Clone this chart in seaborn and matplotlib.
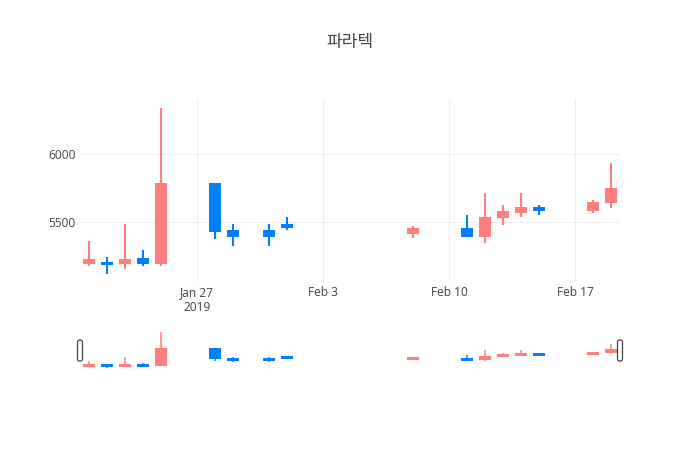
import pandas as pd
import numpy as np
import matplotlib
matplotlib.use("Agg")
import matplotlib.pyplot as plt
import matplotlib.dates as mdates
from matplotlib.patches import FancyBboxPatch
from matplotlib.transforms import IdentityTransform
import seaborn as sns

dates = ["2019-01-21", "2019-01-22", "2019-01-23", "2019-01-24", "2019-01-25",
         "2019-01-28", "2019-01-29", "2019-01-31", "2019-02-01", "2019-02-08",
         "2019-02-11", "2019-02-12", "2019-02-13", "2019-02-14", "2019-02-15",
         "2019-02-18", "2019-02-19"]
opens = [5190, 5200, 5190, 5235, 5195, 5790, 5440, 5440, 5490, 5410,
         5460, 5390, 5530, 5570, 5610, 5580, 5640]
highs = [5365, 5240, 5485, 5295, 6340, 5790, 5485, 5485, 5540, 5470,
         5550, 5715, 5625, 5715, 5625, 5660, 5935]
lows = [5180, 5120, 5155, 5175, 5180, 5375, 5325, 5325, 5445, 5380,
        5390, 5345, 5480, 5535, 5550, 5565, 5605]
closes = [5230, 5190, 5230, 5195, 5790, 5430, 5390, 5390, 5460, 5460,
          5390, 5540, 5580, 5610, 5580, 5650, 5750]

tick_dates = ["2019-01-27", "2019-02-03", "2019-02-10", "2019-02-17"]
tick_labels = ["Jan 27\n2019", "Feb 3", "Feb 10", "Feb 17"]
yticks = [5500, 6000]
title = "파라텍"

up_color = "#FF7F7F"
down_color = "#007FFF"

df = pd.DataFrame({"date": pd.to_datetime(dates), "open": opens, "high": highs,
                   "low": lows, "close": closes})
df["x"] = mdates.date2num(df["date"])
df["color"] = np.where(df["close"] >= df["open"], up_color, down_color)

sns.set_theme(style="white")
plt.rcParams["font.family"] = ["Open Sans", "Noto Sans CJK KR", "DejaVu Sans"]

fig = plt.figure(figsize=(7, 4.5), dpi=100)
ax = fig.add_axes([80/700, 1-282/450, 540/700, 182/450])
axs = fig.add_axes([80/700, 1-370/450, 540/700, 40/450])

span = df["high"].max() - df["low"].min()
ylo = df["low"].min() - 0.05*span
yhi = df["high"].max() + 0.05*span
xlo = df["x"].min() - 0.5
xhi = df["x"].max() + 0.5


def draw_candles(a, lw, px_height, min_px):
    a.vlines(df["x"], df["low"], df["high"], colors=df["color"], linewidth=lw, zorder=2)
    min_h = (yhi - ylo) / px_height * min_px
    mid = (df["open"] + df["close"]) / 2
    height = (df["close"] - df["open"]).abs().clip(lower=min_h)
    a.bar(df["x"], height, bottom=mid - height/2, width=0.64, color=df["color"],
          linewidth=0, zorder=3)
    a.set_xlim(xlo, xhi)
    a.set_ylim(ylo, yhi)


draw_candles(ax, 1.5, 182, 3)
draw_candles(axs, 1.1, 40, 3)

tick_x = mdates.date2num(pd.to_datetime(tick_dates))
ax.set_xticks(tick_x)
ax.set_xticklabels(tick_labels, fontsize=8.6, color="#444444", linespacing=1.2)
ax.set_yticks(yticks)
ax.set_yticklabels([str(v) for v in yticks], fontsize=8.6, color="#444444")
ax.tick_params(axis="both", length=0)
ax.tick_params(axis="x", pad=3)
ax.tick_params(axis="y", pad=3)
ax.grid(True, color="#eeeeee", linewidth=0.8, zorder=0)
ax.set_axisbelow(True)
sns.despine(ax=ax, left=True, bottom=True)

axs.set_xticks([])
axs.set_yticks([])
sns.despine(ax=axs, left=True, bottom=True)

# range slider grab handles (pixel coordinates)
for px in (80, 620):
    handle = FancyBboxPatch((px-2.5, 450-361), 5, 21,
                            boxstyle="round,pad=0,rounding_size=2",
                            facecolor="white", edgecolor="#444444", linewidth=0.9,
                            transform=IdentityTransform(), zorder=5)
    fig.add_artist(handle)

fig.text(0.5, 1-43/450, title, ha="center", va="center", fontsize=12.3,
         color="#444444")

fig.savefig("out.png", dpi=100)
